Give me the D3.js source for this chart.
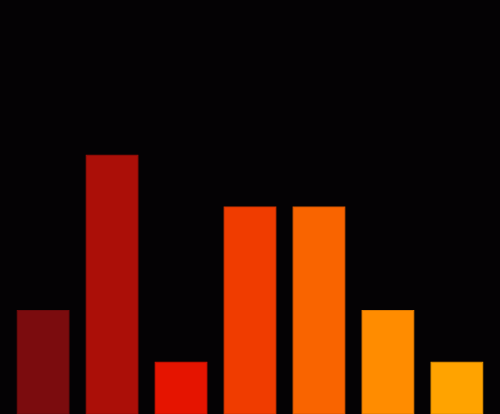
<!DOCTYPE html>
<html>
<head>
<meta charset="utf-8">
<script src="https://cdn.jsdelivr.net/npm/d3@7"></script>
<style>
  html, body { margin: 0; padding: 0; background: #040204; }
</style>
</head>
<body>
<div class="bar-plot"></div>
<script>
const categories = ['a', 'b', 'c', 'd', 'e', 'f', 'g'];
const values = [2, 5, 1, 4, 4, 2, 1];
const colors = ['#7b0c0e', '#ab0f08', '#e51400', '#f03c00', '#f96400', '#ff8c00', '#ffa300'];

const width = 500;
const height = 414;

const svg = d3.select('.bar-plot')
    .append('svg')
    .attr('width', width)
    .attr('height', height)
    .style('display', 'block');

svg.append('rect')
    .attr('width', width)
    .attr('height', height)
    .attr('fill', '#040204');

const xScale = d3.scaleBand()
    .domain(categories)
    .range([0, width])
    .padding(0.25);

const yScale = d3.scaleLinear()
    .domain([0, 8])
    .range([height, 0]);

svg.selectAll('.bar')
    .data(values)
    .enter()
    .append('rect')
    .attr('class', 'bar')
    .attr('x', (d, i) => xScale(categories[i]))
    .attr('y', d => yScale(d))
    .attr('width', xScale.bandwidth())
    .attr('height', d => height - yScale(d))
    .attr('fill', (d, i) => colors[i])
    .attr('stroke', (d, i) => d3.color(colors[i]).darker(0.4))
    .attr('stroke-width', 1);
</script>
</body>
</html>
